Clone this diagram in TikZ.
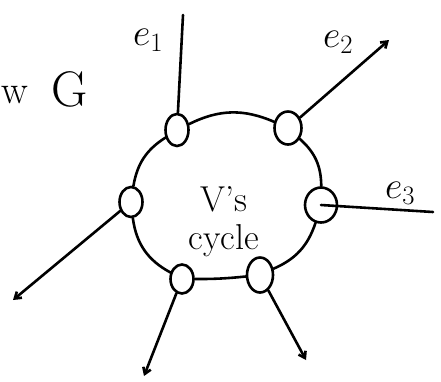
\RequirePackage{fix-cm}
\documentclass[tikz,border=0pt]{standalone}
\usetikzlibrary{shapes.geometric,arrows.meta}
\begin{document}
\begin{tikzpicture}[x=1pt,y=-1pt, line width=2.6pt, line cap=round,
  vtx/.style={draw, ellipse, inner sep=0pt, line width=2.6pt},
  edge/.style={-{Straight Barb[length=6pt,width=8pt]}},
  lbl/.style={font=\fontsize{38}{40}\selectfont, inner sep=0pt},
  big/.style={font=\fontsize{36}{38}\selectfont, inner sep=0pt, align=center}]
\useasboundingbox (0,0) rectangle (441,381);
% vertices on the cycle
\node[vtx, minimum width=23pt, minimum height=32pt] (n1) at (177,130) {};
\node[vtx, minimum width=27pt, minimum height=33pt] (n2) at (288,128) {};
\node[vtx, minimum width=32pt, minimum height=35pt] (n3) at (321,205) {};
\node[vtx, minimum width=26pt, minimum height=35pt] (n4) at (260,275) {};
\node[vtx, minimum width=23pt, minimum height=29pt] (n5) at (182,279) {};
\node[vtx, minimum width=23pt, minimum height=30pt] (n6) at (131,202) {};
% cycle
\draw (n1) to[bend left=25] (n2);
\draw (n2) to[bend left=24] (n3);
\draw (n3) to[bend left=24] (n4);
\draw (n4) to[bend left=3] (n5);
\draw (n5) to[bend left=27] (n6);
\draw (n6) to[bend left=24] (n1);
% outgoing edges
\coordinate (t1) at (183,15);
\coordinate (t2) at (389,40);
\coordinate (t3) at (433,212);
\coordinate (t4) at (306,360);
\coordinate (t5) at (144,376);
\coordinate (t6) at (13,300);
\draw (n1) -- (t1);
\draw[edge] (n2) -- (t2);
\draw (n3.center) -- (t3);
\draw[edge] (n4) -- (t4);
\draw[edge] (n5) -- (t5);
\draw[edge] (n6) -- (t6);
% labels
\node[lbl] (l1) at (148,40) {$e_1$};
\node[lbl] (l2) at (338,42) {$e_2$};
\node[lbl] (l3) at (400,193) {$e_3$};
\node[font=\fontsize{50}{50}\selectfont, inner sep=0pt] (g) at (70,89) {G};
\node[font=\fontsize{40}{40}\selectfont, inner sep=0pt, anchor=west] (w) at (0,95) {w};
\node[big] (c) at (224,222) {V’s\\cycle};
\end{tikzpicture}
\end{document}
